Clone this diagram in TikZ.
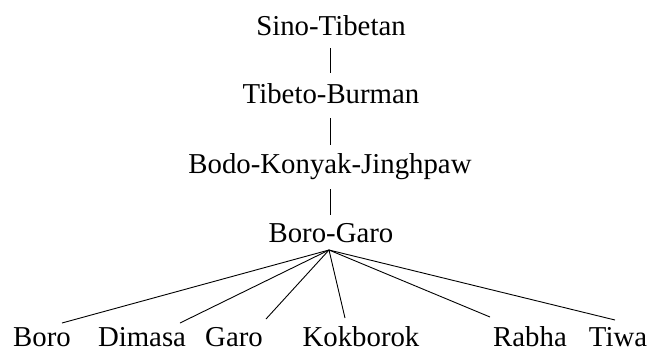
\documentclass[tikz,border=0pt]{standalone}
\usepackage{fontspec}
\setmainfont{Liberation Serif}
\usetikzlibrary{calc}
\begin{document}
\begin{tikzpicture}[x=1pt,y=-1pt,
  lang/.style={inner sep=0pt, anchor=base, font=\fontsize{28.8}{34}\selectfont},
  edge/.style={line width=0.9pt, black}]
\useasboundingbox (0,0) rectangle (649,349);
\node[lang] (st) at (331,35) {Sino-Tibetan};
\node[lang] (tb) at (331,103) {Tibeto-Burman};
\node[lang] (bkj) at (330,173) {Bodo-Konyak-Jinghpaw};
\node[lang] (bg) at (331,242) {Boro-Garo};
\node[lang] (boro) at (42,346) {Boro};
\node[lang] (dim) at (142,346) {Dimasa};
\node[lang] (garo) at (234,346) {Garo};
\node[lang] (kok) at (361,346) {Kokborok};
\node[lang] (rab) at (530,346) {Rabha};
\node[lang] (tiwa) at (618,346) {Tiwa};
\draw[edge] ($(st.base)+(-1,13)$) -- ($(tb.base)+(-1,-30)$);
\draw[edge] ($(tb.base)+(-1,15)$) -- ($(bkj.base)+(0,-28)$);
\draw[edge] ($(bkj.base)+(0,16)$) -- ($(bg.base)+(-1,-27)$);
\coordinate (apex) at ($(bg.base)+(-2,8)$);
\draw[edge] (apex) -- ($(boro.base)+(20,-23)$);
\draw[edge] (apex) -- ($(dim.base)+(38,-23)$);
\draw[edge] (apex) -- ($(garo.base)+(32,-27)$);
\draw[edge] (apex) -- ($(kok.base)+(-16,-28)$);
\draw[edge] (apex) -- ($(rab.base)+(-40,-29)$);
\draw[edge] (apex) -- ($(tiwa.base)+(-3,-26)$);
\end{tikzpicture}
\end{document}
